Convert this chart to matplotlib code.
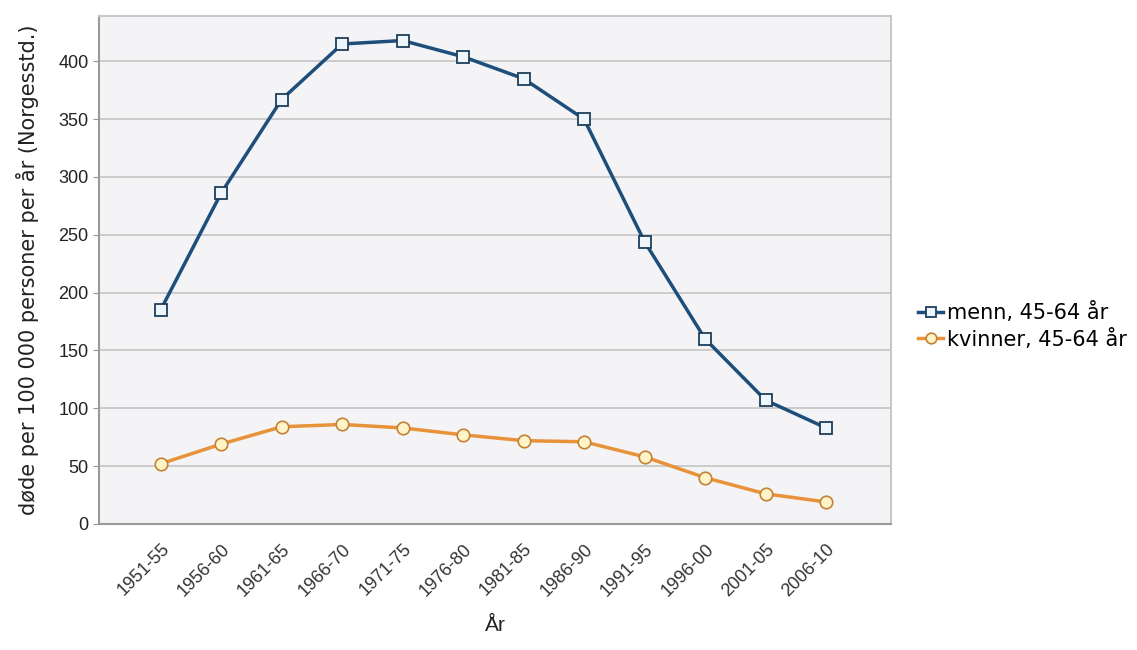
import numpy as np
import matplotlib
matplotlib.use('Agg')
import matplotlib.pyplot as plt

periods = ['1951-55', '1956-60', '1961-65', '1966-70', '1971-75', '1976-80',
           '1981-85', '1986-90', '1991-95', '1996-00', '2001-05', '2006-10']
menn = [185, 286, 367, 415, 418, 404, 385, 350, 244, 160, 107, 83]
kvinner = [52, 69, 84, 86, 83, 77, 72, 71, 58, 40, 26, 19]

matplotlib.rcParams['font.family'] = ['Liberation Sans', 'DejaVu Sans']

fig = plt.figure(figsize=(11.37, 6.5), dpi=100)
ax = fig.add_axes([0.087, 0.194, 0.697, 0.781])
ax.set_facecolor('#F4F4F6')

x = np.arange(len(periods))
ax.plot(x, menn, '-s', color='#1E4E7A', linewidth=2.5, markersize=9,
        markerfacecolor='#EEF6FC', markeredgecolor='#1E3F5A', markeredgewidth=1.3,
        label='menn, 45-64 år', zorder=3)
ax.plot(x, kvinner, '-o', color='#E8923A', linewidth=2.5, markersize=9,
        markerfacecolor='#FFF4C8', markeredgecolor='#C58236', markeredgewidth=1.2,
        label='kvinner, 45-64 år', zorder=3)

ax.set_xlim(-1.02, 12.08)
ax.set_ylim(0, 439)
ax.set_yticks(np.arange(0, 401, 50))
ax.set_xticks(x)
ax.set_xticklabels(periods, rotation=45, ha='right', rotation_mode='anchor',
                   fontsize=13, color='#333333')
ax.tick_params(axis='y', labelsize=13, length=4, color='#999999', labelcolor='#222222')
ax.tick_params(axis='x', length=0, pad=12)

ax.grid(True, axis='y', color='#C4C4C4', linewidth=1.2)
ax.set_axisbelow(True)
for side in ['left', 'bottom']:
    ax.spines[side].set_color('#9A9A9A')
    ax.spines[side].set_linewidth(1.5)
for side in ['top', 'right']:
    ax.spines[side].set_color('#C8C8C8')
    ax.spines[side].set_linewidth(1.5)

ax.set_ylabel('døde per 100 000 personer per år (Norgesstd.)', fontsize=15,
              family='DejaVu Sans', color='#222222', labelpad=14)
ax.set_xlabel('År', fontsize=15, labelpad=12, color='#222222')

ax.legend(loc='center left', bbox_to_anchor=(1.01, 0.39), frameon=False,
          prop={'family': 'DejaVu Sans', 'size': 15}, handlelength=1.2,
          handletextpad=0.2, markerscale=0.85, labelspacing=0.25)

fig.savefig('out.png', dpi=100)
